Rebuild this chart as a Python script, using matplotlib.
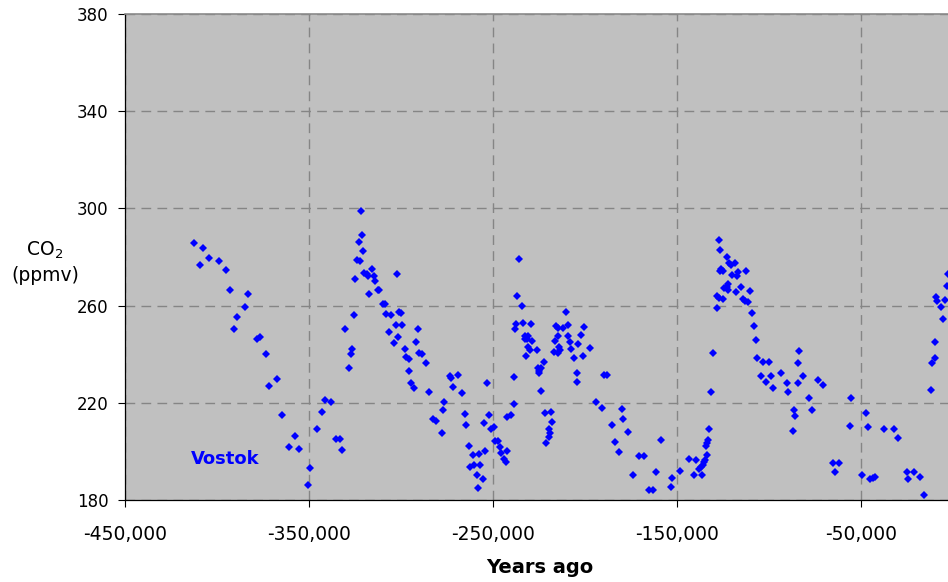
import matplotlib
matplotlib.use("Agg")
import matplotlib.pyplot as plt

# Vostok ice core CO2
years = [
    -412300, -409200, -407400, -404300, -398900, -395100, -392800, -390900, -389000, -384600,
    -383000, -378100, -376600, -373200, -371600, -367600, -364500, -361000, -357800, -355400,
    -350500, -349300, -345800, -343100, -341500, -338200, -335500, -333100, -332100, -330400,
    -328400, -327300, -326600, -325500, -324800, -323700, -323000, -322100, -321900, -321200,
    -320500, -320100, -318600, -317800, -317400, -315600, -314800, -314300, -312700, -311800,
    -309900, -308900, -308300, -306500, -305300, -303600, -302900, -302200, -301500, -301100,
    -299800, -299300, -297800, -297100, -295800, -295500, -294600, -293100, -291800, -290600,
    -290000, -288600, -286200, -284600, -282400, -280800, -277700, -277200, -276500, -273400,
    -272800, -271600, -269200, -266700, -265400, -264800, -263000, -262500, -261000, -260300,
    -258900, -258000, -257400, -256900, -255600, -255000, -254500, -253300, -252000, -251200,
    -249400, -249100, -247100, -246400, -245800, -244000, -242800, -242400, -242300, -240400,
    -238600, -238500, -237900, -237300, -237200, -235900, -234200, -233700, -232800, -232700,
    -231900, -231700, -231000, -230800, -229900, -229300, -228800, -226100, -225500, -225000,
    -224800, -224100, -223900, -222400, -221600, -221400, -219600, -219500, -218800, -218500,
    -217800, -216700, -216100, -215600, -214800, -214700, -214500, -214100, -213400, -212100,
    -210300, -209200, -209100, -208100, -207800, -205800, -204200, -204100, -203600, -202300,
    -201100, -200400, -197400, -193800, -190800, -189500, -187900, -185300, -183500, -181700,
    -179700, -179200, -176800, -173700, -170500, -168100, -165000, -163200, -161400, -158800,
    -153400, -152700, -148500, -143600, -140600, -139500, -137900, -136900, -136400, -136000,
    -135500, -134600, -134500, -133800, -133700, -133100, -132600, -131500, -130300, -128400,
    -128200, -127200, -127000, -126900, -126600, -126100, -125200, -124800, -124300, -123000,
    -122600, -122300, -122100, -121700, -120600, -120300, -118500, -118100, -117200, -116800,
    -115400, -114300, -113000, -112600, -111600, -110500, -109200, -108100, -107100, -106300,
    -104500, -103200, -101500, -100100, -99100, -97600, -93500, -90400, -89700, -87100,
    -86400, -85600, -84400, -84100, -83800, -81300, -78100, -76800, -73400, -70800,
    -65400, -64100, -61800, -56100, -55400, -49400, -47400, -46300, -45100, -43600,
    -42400, -37600, -32200, -29900, -25100, -24300, -21200, -18100, -15700, -12100,
    -11400, -9800, -9600, -9200, -8500, -6700, -5400, -4300, -3100, -2700,
]
co2 = [
    285.6, 276.6, 283.7, 279.7, 278.4, 274.8, 266.4, 250.2, 255.2, 259.5,
    264.9, 246.3, 247.1, 240.0, 227.0, 229.7, 214.9, 201.9, 206.5, 201.1,
    186.3, 193.0, 209.1, 216.3, 221.2, 220.3, 205.1, 205.1, 200.7, 250.2,
    234.2, 240.0, 242.1, 256.0, 270.8, 278.8, 286.0, 278.2, 298.9, 289.1,
    282.3, 273.5, 272.9, 272.3, 264.9, 275.2, 272.2, 270.3, 266.3, 266.3,
    260.5, 260.5, 256.4, 249.3, 256.0, 244.7, 252.0, 273.0, 247.2, 257.2,
    257.0, 252.0, 242.3, 239.0, 238.0, 233.2, 228.0, 226.0, 244.9, 250.2,
    240.6, 240.2, 236.4, 224.3, 213.2, 212.6, 207.7, 217.0, 220.3, 231.0,
    230.3, 226.5, 231.4, 223.9, 215.4, 210.9, 202.3, 193.6, 198.4, 194.3,
    190.3, 185.1, 198.8, 194.3, 188.5, 211.8, 200.3, 228.3, 215.0, 209.2,
    209.9, 204.4, 204.3, 202.0, 199.3, 196.7, 195.5, 200.2, 214.0, 215.0,
    230.6, 219.4, 250.2, 252.5, 264.1, 279.3, 260.0, 253.0, 247.6, 246.3,
    239.4, 246.3, 243.0, 247.4, 241.9, 252.5, 245.4, 241.9, 234.4, 232.1,
    233.2, 234.3, 224.7, 236.9, 215.8, 203.3, 209.1, 206.0, 207.4, 216.2,
    212.2, 240.9, 245.3, 251.7, 247.5, 250.9, 240.4, 243.1, 241.7, 250.9,
    257.4, 247.6, 252.0, 245.1, 242.3, 238.3, 232.4, 228.7, 244.3, 248.0,
    239.1, 251.1, 242.7, 220.3, 218.0, 231.4, 231.4, 211.0, 203.9, 199.8,
    217.6, 213.2, 207.9, 190.4, 198.0, 198.0, 184.1, 184.1, 191.6, 204.7,
    185.5, 188.9, 192.1, 197.0, 190.3, 196.5, 192.6, 193.7, 190.3, 194.4,
    195.8, 196.5, 202.2, 203.3, 198.5, 204.7, 209.1, 224.3, 240.4, 263.8,
    259.1, 263.2, 287.0, 282.8, 274.2, 274.9, 274.2, 262.6, 267.1, 267.8,
    280.1, 268.8, 266.4, 277.4, 276.8, 272.6, 277.7, 265.5, 272.2, 273.9,
    267.8, 262.6, 261.9, 274.2, 261.5, 266.1, 256.8, 251.6, 245.8, 238.3,
    231.2, 236.8, 228.4, 236.8, 231.2, 226.1, 232.4, 228.3, 224.3, 208.3,
    217.2, 214.4, 228.3, 236.3, 241.3, 231.0, 222.1, 217.2, 229.3, 227.4,
    195.3, 191.6, 195.3, 210.5, 222.1, 190.3, 215.8, 210.0, 188.5, 188.9,
    189.5, 209.1, 209.1, 205.5, 191.6, 188.5, 191.6, 189.5, 182.2, 225.1,
    236.3, 244.9, 238.6, 263.7, 261.9, 259.5, 254.6, 262.2, 268.1, 273.0,
]

xticks = [-450000, -350000, -250000, -150000, -50000]
xticklabels = ["-450,000", "-350,000", "-250,000", "-150,000", "-50,000"]
yticks = [180, 220, 260, 300, 340, 380]

fig = plt.figure(figsize=(9.48, 5.82), dpi=100)
# the right edge of the plot (year 0) falls just outside the picture
ax = fig.add_axes([125 / 948, 82 / 582, 828 / 948, 486 / 582])
ax.set_facecolor("#c0c0c0")

ax.plot(years, co2, linestyle="none", marker="D", markersize=4.2,
        color="#0000ff", markeredgewidth=0, zorder=3)

ax.set_xlim(-450000, 0)
ax.set_ylim(180, 380)
ax.set_xticks(xticks)
ax.set_xticklabels(xticklabels, fontsize=13.5)
ax.set_yticks(yticks)
ax.set_yticklabels([str(v) for v in yticks], fontsize=12)
ax.tick_params(axis="x", direction="out", length=5, width=0.8, pad=13)
ax.tick_params(axis="y", direction="out", length=5, width=0.8, pad=7)

ax.grid(True, color="#858585", linewidth=1.0, linestyle=(0, (7, 4.5)))
ax.set_axisbelow(True)

for side in ["left", "bottom"]:
    ax.spines[side].set_color("black")
    ax.spines[side].set_linewidth(0.9)
ax.spines["top"].set_color("#8a8a8a")
ax.spines["top"].set_linewidth(1.2)
ax.spines["right"].set_visible(False)

ax.text(-414300, 194.8, "Vostok", color="#0000ff", fontsize=13,
        fontweight="bold", va="baseline", ha="left")

fig.text(45 / 948, 1 - 262 / 582, "CO$_2$\n(ppmv)", ha="center", va="center",
         fontsize=13.5, linespacing=1.35)
fig.text(540 / 948, 1 - 573 / 582, "Years ago", ha="center", va="baseline",
         fontsize=14, fontweight="bold")

fig.savefig("out.png", dpi=100)
